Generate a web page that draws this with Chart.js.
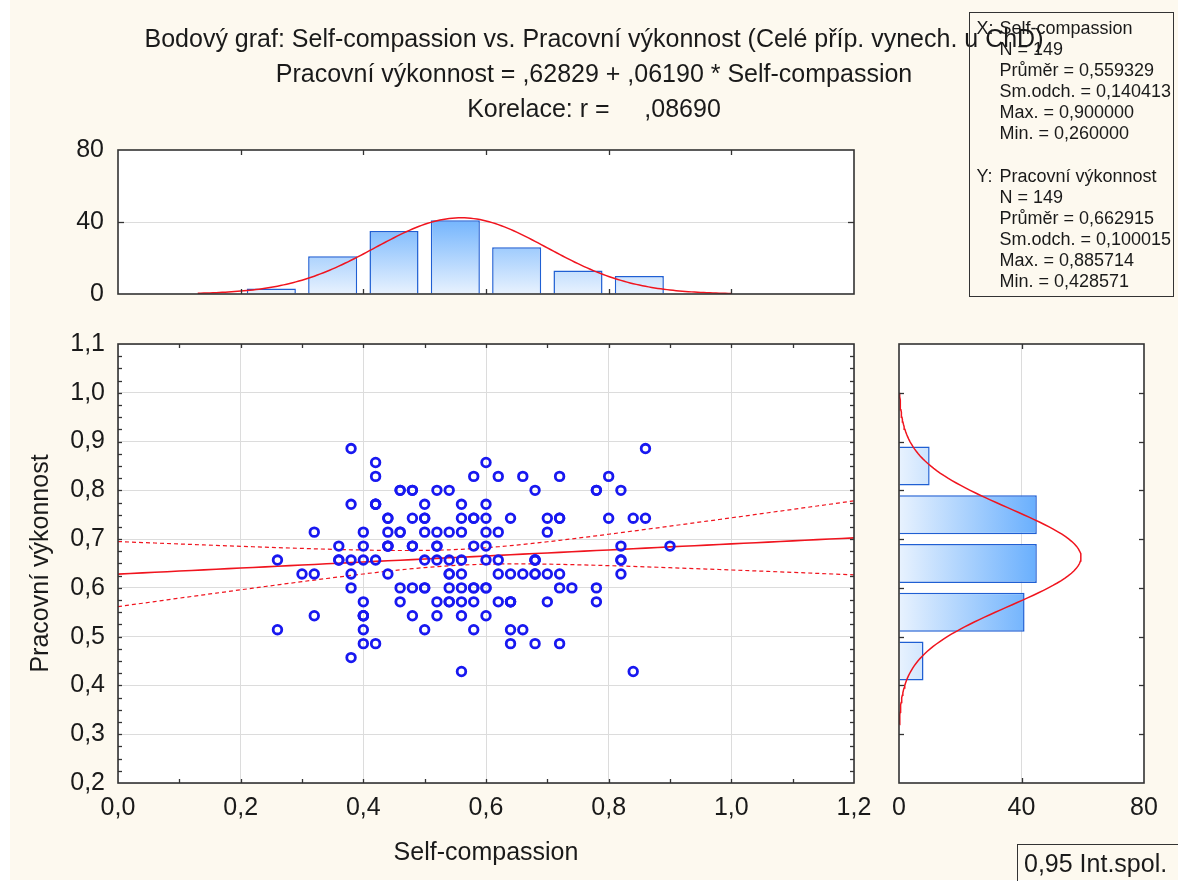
<!DOCTYPE html>
<html>
<head>
<meta charset="utf-8">
<script src="https://cdn.jsdelivr.net/npm/chart.js@4"></script>
<style>
  body { margin: 0; width: 1178px; height: 881px; overflow: hidden; background: #fff;
         font-family: "Liberation Sans", Arial, sans-serif; color: #1a1a1a; }
  #bg { position: absolute; left: 10px; top: 0; width: 1168px; height: 880px; background: #fdf9ef; }
  canvas { position: absolute; left: 0; top: 0; }
  #title { position: absolute; left: 94px; top: 21px; width: 1000px; text-align: center;
           font-size: 25px; line-height: 35px; white-space: pre; }
  #stats { position: absolute; left: 969px; top: 12px; width: 196px; height: 278px;
           border: 1.5px solid #333; padding: 5px 0 0 6.5px; font-size: 18px; line-height: 21.1px; white-space: pre; }
  #stats .lab { display: inline-block; width: 23px; }
  #stats .ind { padding-left: 23px; }
  #ci { position: absolute; left: 1017px; top: 844px; width: 170px; height: 45px;
        border: 1.5px solid #333; padding-left: 6px; font-size: 25px; line-height: 36px; }
</style>
</head>
<body>
<div id="bg"></div>
<canvas id="scatter" width="1178" height="881"></canvas>
<canvas id="histTop" width="1178" height="881"></canvas>
<canvas id="histRight" width="1178" height="881"></canvas>
<div id="title"></div>
<div id="stats"></div>
<div id="ci">0,95 Int.spol.</div>
<script>
// scatter points, one line per level of Pracovni vykonnost
const selfCompassion = [
  0.56, 0.84,
  0.38,
  0.40, 0.42, 0.64, 0.68, 0.72,
  0.26, 0.40, 0.50, 0.58, 0.64, 0.66,
  0.32, 0.40, 0.40, 0.40, 0.48, 0.52, 0.56, 0.60,
  0.40, 0.46, 0.52, 0.54, 0.54, 0.56, 0.58, 0.62, 0.64, 0.64, 0.64, 0.70, 0.78,
  0.38, 0.46, 0.48, 0.50, 0.50, 0.54, 0.56, 0.58, 0.58, 0.60, 0.60, 0.72, 0.74, 0.78,
  0.30, 0.32, 0.38, 0.44, 0.54, 0.54, 0.56, 0.62, 0.64, 0.66, 0.68, 0.68, 0.70, 0.72, 0.82,
  0.26, 0.36, 0.36, 0.38, 0.40, 0.42, 0.50, 0.52, 0.54, 0.56, 0.60, 0.62, 0.68, 0.68, 0.68, 0.82, 0.82,
  0.36, 0.40, 0.44, 0.44, 0.44, 0.48, 0.48, 0.52, 0.52, 0.58, 0.60, 0.82, 0.90,
  0.32, 0.40, 0.44, 0.46, 0.46, 0.50, 0.52, 0.54, 0.56, 0.60, 0.62, 0.70,
  0.44, 0.44, 0.48, 0.50, 0.50, 0.56, 0.58, 0.58, 0.60, 0.64, 0.70, 0.72, 0.72, 0.80, 0.84, 0.86,
  0.38, 0.42, 0.42, 0.42, 0.50, 0.56, 0.60,
  0.46, 0.46, 0.48, 0.48, 0.52, 0.54, 0.68, 0.78, 0.78, 0.82,
  0.42, 0.58, 0.62, 0.66, 0.72, 0.80,
  0.42, 0.60,
  0.38, 0.86
];
const workPerf = [
  0.4286, 0.4286,
  0.4571,
  0.4857, 0.4857, 0.4857, 0.4857, 0.4857,
  0.5143, 0.5143, 0.5143, 0.5143, 0.5143, 0.5143,
  0.5429, 0.5429, 0.5429, 0.5429, 0.5429, 0.5429, 0.5429, 0.5429,
  0.5714, 0.5714, 0.5714, 0.5714, 0.5714, 0.5714, 0.5714, 0.5714, 0.5714, 0.5714, 0.5714, 0.5714, 0.5714,
  0.6, 0.6, 0.6, 0.6, 0.6, 0.6, 0.6, 0.6, 0.6, 0.6, 0.6, 0.6, 0.6, 0.6,
  0.6286, 0.6286, 0.6286, 0.6286, 0.6286, 0.6286, 0.6286, 0.6286, 0.6286, 0.6286, 0.6286, 0.6286, 0.6286, 0.6286, 0.6286,
  0.6571, 0.6571, 0.6571, 0.6571, 0.6571, 0.6571, 0.6571, 0.6571, 0.6571, 0.6571, 0.6571, 0.6571, 0.6571, 0.6571, 0.6571, 0.6571, 0.6571,
  0.6857, 0.6857, 0.6857, 0.6857, 0.6857, 0.6857, 0.6857, 0.6857, 0.6857, 0.6857, 0.6857, 0.6857, 0.6857,
  0.7143, 0.7143, 0.7143, 0.7143, 0.7143, 0.7143, 0.7143, 0.7143, 0.7143, 0.7143, 0.7143, 0.7143,
  0.7429, 0.7429, 0.7429, 0.7429, 0.7429, 0.7429, 0.7429, 0.7429, 0.7429, 0.7429, 0.7429, 0.7429, 0.7429, 0.7429, 0.7429, 0.7429,
  0.7714, 0.7714, 0.7714, 0.7714, 0.7714, 0.7714, 0.7714,
  0.8, 0.8, 0.8, 0.8, 0.8, 0.8, 0.8, 0.8, 0.8, 0.8,
  0.8286, 0.8286, 0.8286, 0.8286, 0.8286, 0.8286,
  0.8571, 0.8571,
  0.8857, 0.8857
];

// marginal histograms (bin centres, width 0.1)
const xBinCenters = [0.25, 0.35, 0.45, 0.55, 0.65, 0.75, 0.85];
const xBinCounts = [3, 21, 35, 41, 26, 13, 10];
const yBinCenters = [0.45, 0.55, 0.65, 0.75, 0.85];
const yBinCounts = [8, 41, 45, 45, 10];
const binWidth = 0.1;

// descriptive stats and fit, as printed on the chart
const statN = 149;
const xStats = { name: 'Self-compassion', mean: 0.559329, sd: 0.140413, max: 0.900000, min: 0.260000 };
const yStats = { name: 'Pracovní výkonnost', mean: 0.662915, sd: 0.100015, max: 0.885714, min: 0.428571 };
const intercept = 0.62829;
const slope = 0.06190;
const corrR = 0.08690;

const W = 1178, H = 881;
const RED = '#f0141e';
const TXT = '#1a1a1a';

Chart.defaults.font.family = '"Liberation Sans", Arial, sans-serif';
Chart.defaults.font.size = 25;
Chart.defaults.color = TXT;

function comma(v, d) { return Number(v).toFixed(d).replace('.', ','); }
function shortNum(v) { return comma(v, 5).replace(/^0/, ''); }

// texts
document.getElementById('title').textContent =
  'Bodový graf: ' + xStats.name + ' vs. ' + yStats.name + ' (Celé příp. vynech. u ChD)\n' +
  yStats.name + ' = ' + shortNum(intercept) + ' + ' + shortNum(slope) + ' * ' + xStats.name + '\n' +
  'Korelace: r =     ' + shortNum(corrR);

function statLines(tag, s) {
  return '<div><span class="lab">' + tag + ':</span>' + s.name + '</div>' +
    '<div class="ind">N = ' + statN + '</div>' +
    '<div class="ind">Průměr = ' + comma(s.mean, 6) + '</div>' +
    '<div class="ind">Sm.odch. = ' + comma(s.sd, 6) + '</div>' +
    '<div class="ind">Max. = ' + comma(s.max, 6) + '</div>' +
    '<div class="ind">Min. = ' + comma(s.min, 6) + '</div>';
}
document.getElementById('stats').innerHTML = statLines('X', xStats) + '<div> </div>' + statLines('Y', yStats);

// fitted normal curves for the histograms
function normalCurve(s, from, to) {
  const pts = [];
  const k = statN * binWidth / (s.sd * Math.sqrt(2 * Math.PI));
  for (let v = from; v <= to + 1e-9; v += 0.005) {
    pts.push({ v: v, d: k * Math.exp(-0.5 * Math.pow((v - s.mean) / s.sd, 2)) });
  }
  return pts;
}
const xCurve = normalCurve(xStats, 0.13, 1.0).map(p => ({ x: p.v, y: p.d }));
const yCurve = normalCurve(yStats, 0.32, 1.0).map(p => ({ x: p.d, y: p.v }));

// regression line with 0.95 confidence band
const sxx = (statN - 1) * xStats.sd * xStats.sd;
const sRes = yStats.sd * Math.sqrt((1 - corrR * corrR) * (statN - 1) / (statN - 2));
const tCrit = 1.976;
const fitLine = [], bandUp = [], bandLo = [];
for (let x = 0; x <= 1.2 + 1e-9; x += 0.02) {
  const yh = intercept + slope * x;
  const h = tCrit * sRes * Math.sqrt(1 / statN + Math.pow(x - xStats.mean, 2) / sxx);
  fitLine.push({ x: x, y: yh });
  bandUp.push({ x: x, y: yh + h });
  bandLo.push({ x: x, y: yh - h });
}

function steps(from, to, step) {
  const out = [];
  for (let v = from; v <= to + 1e-9; v += step) out.push(v);
  return out;
}

// white plot area, frame and inward tick marks
const framePlugin = {
  id: 'frame',
  beforeDraw(chart) {
    const a = chart.chartArea, c = chart.ctx;
    c.save();
    c.fillStyle = '#fff';
    c.fillRect(a.left, a.top, a.width, a.height);
    c.restore();
  },
  afterDatasetsDraw(chart, args, opts) {
    const a = chart.chartArea, c = chart.ctx;
    c.save();
    c.strokeStyle = '#333';
    c.lineWidth = 1.3;
    (opts.ticks || []).forEach(t => {
      const s = chart.scales[t.axis];
      t.values.forEach(v => {
        const p = Math.round(s.getPixelForValue(v)) + 0.5;
        c.beginPath();
        if (t.edge === 'bottom') { c.moveTo(p, a.bottom); c.lineTo(p, a.bottom - t.len); }
        if (t.edge === 'top') { c.moveTo(p, a.top); c.lineTo(p, a.top + t.len); }
        if (t.edge === 'left') { c.moveTo(a.left, p); c.lineTo(a.left + t.len, p); }
        if (t.edge === 'right') { c.moveTo(a.right, p); c.lineTo(a.right - t.len, p); }
        c.stroke();
      });
    });
    c.lineWidth = 1.6;
    c.strokeRect(a.left, a.top, a.width, a.height);
    c.restore();
  }
};

function barFill(horizontal) {
  return function(ctx) {
    const chart = ctx.chart;
    if (!chart.chartArea) return '#bcdcff';
    const s = horizontal ? chart.scales.x : chart.scales.y;
    const p0 = s.getPixelForValue(0), p1 = s.getPixelForValue(45);
    const g = horizontal ? chart.ctx.createLinearGradient(p0, 0, p1, 0)
                         : chart.ctx.createLinearGradient(0, p0, 0, p1);
    g.addColorStop(0, '#e8f2fe');
    g.addColorStop(1, '#69affd');
    return g;
  };
}

function onlyAt(value) {
  return ctx => (ctx.tick && ctx.tick.value === value) ? '#dcdcdc' : 'rgba(0,0,0,0)';
}

// scatter plot
new Chart(document.getElementById('scatter'), {
  type: 'scatter',
  data: {
    datasets: [
      {
        data: selfCompassion.map((x, i) => ({ x: x, y: workPerf[i] })),
        pointRadius: 4.3, pointHoverRadius: 4.3, pointBorderWidth: 2.8,
        pointBorderColor: 'rgb(24,24,240)', pointBackgroundColor: 'rgba(0,0,0,0)'
      },
      { type: 'line', data: fitLine, borderColor: RED, borderWidth: 1.6, pointRadius: 0 },
      { type: 'line', data: bandUp, borderColor: RED, borderWidth: 1.2, borderDash: [4, 3], pointRadius: 0 },
      { type: 'line', data: bandLo, borderColor: RED, borderWidth: 1.2, borderDash: [4, 3], pointRadius: 0 }
    ]
  },
  options: {
    responsive: false, animation: false,
    layout: { padding: { left: 0, top: 344, right: W - 854, bottom: H - 783 - 85 } },
    plugins: {
      legend: { display: false }, tooltip: { enabled: false },
      frame: { ticks: [
        { axis: 'y', edge: 'left', values: steps(0.225, 1.075, 0.025), len: 4 },
        { axis: 'y', edge: 'right', values: steps(0.225, 1.075, 0.025), len: 4 },
        { axis: 'x', edge: 'bottom', values: steps(0.1, 1.1, 0.1), len: 4 },
        { axis: 'x', edge: 'top', values: steps(0.1, 1.1, 0.1), len: 4 }
      ] }
    },
    scales: {
      x: {
        type: 'linear', min: 0, max: 1.2,
        ticks: { stepSize: 0.2, padding: 10, callback: v => comma(v, 1) },
        grid: { color: '#dcdcdc', drawTicks: false },
        border: { display: false },
        title: { display: true, text: xStats.name, padding: 0 },
        afterFit(s) { s.height = 85; }
      },
      y: {
        type: 'linear', min: 0.2, max: 1.1,
        ticks: { stepSize: 0.1, padding: 13, callback: v => comma(v, 1) },
        grid: { color: '#dcdcdc', drawTicks: false },
        border: { display: false },
        title: { display: true, text: yStats.name, padding: { top: 26, bottom: 0 } },
        afterFit(s) { s.width = 118; }
      }
    }
  },
  plugins: [framePlugin]
});

// histogram of Self-compassion (top)
new Chart(document.getElementById('histTop'), {
  type: 'bar',
  data: {
    datasets: [
      { type: 'line', data: xCurve, borderColor: RED, borderWidth: 1.5, pointRadius: 0 },
      {
        data: xBinCenters.map((c, i) => ({ x: c, y: xBinCounts[i] })),
        backgroundColor: barFill(false), borderColor: '#1f5fd3', borderWidth: 1.5,
        categoryPercentage: 1, barPercentage: 0.8
      }
    ]
  },
  options: {
    responsive: false, animation: false,
    layout: { padding: { left: 0, top: 150, right: W - 854, bottom: H - 294 } },
    plugins: {
      legend: { display: false }, tooltip: { enabled: false },
      frame: { ticks: [
        { axis: 'y', edge: 'left', values: [40], len: 6 },
        { axis: 'y', edge: 'right', values: [40], len: 6 },
        { axis: 'x', edge: 'bottom', values: steps(0.2, 1.0, 0.2), len: 5 },
        { axis: 'x', edge: 'top', values: steps(0.2, 1.0, 0.2), len: 5 }
      ] }
    },
    scales: {
      x: { type: 'linear', min: 0, max: 1.2, offset: false, display: false, ticks: { stepSize: 0.2 } },
      y: {
        min: 0, max: 80,
        ticks: { stepSize: 40, padding: 14 },
        grid: { color: onlyAt(40), drawTicks: false },
        border: { display: false },
        afterFit(s) { s.width = 118; }
      }
    }
  },
  plugins: [framePlugin]
});

// histogram of Pracovni vykonnost (right)
new Chart(document.getElementById('histRight'), {
  type: 'bar',
  data: {
    datasets: [
      { type: 'line', indexAxis: 'y', data: yCurve, borderColor: RED, borderWidth: 1.5, pointRadius: 0 },
      {
        data: yBinCenters.map((c, i) => ({ x: yBinCounts[i], y: c })),
        backgroundColor: barFill(true), borderColor: '#1f5fd3', borderWidth: 1.5,
        categoryPercentage: 1, barPercentage: 0.8
      }
    ]
  },
  options: {
    indexAxis: 'y',
    responsive: false, animation: false,
    layout: { padding: { left: 899, top: 344, right: W - 1144, bottom: H - 783 - 85 } },
    plugins: {
      legend: { display: false }, tooltip: { enabled: false },
      frame: { ticks: [
        { axis: 'y', edge: 'left', values: steps(0.3, 1.0, 0.1), len: 5 },
        { axis: 'y', edge: 'right', values: steps(0.3, 1.0, 0.1), len: 5 },
        { axis: 'x', edge: 'bottom', values: [40], len: 5 },
        { axis: 'x', edge: 'top', values: [40], len: 5 }
      ] }
    },
    scales: {
      x: {
        type: 'linear', min: 0, max: 80,
        ticks: { stepSize: 40, padding: 10 },
        grid: { color: onlyAt(40), drawTicks: false },
        border: { display: false },
        afterFit(s) { s.height = 85; }
      },
      y: { type: 'linear', min: 0.2, max: 1.1, offset: false, display: false, ticks: { stepSize: 0.1 } }
    }
  },
  plugins: [framePlugin]
});
</script>
</body>
</html>
